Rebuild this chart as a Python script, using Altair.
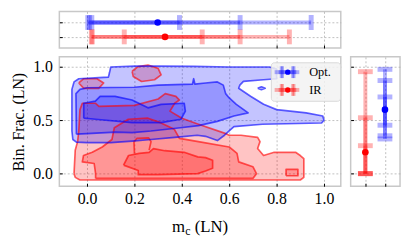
import altair as alt
import pandas as pd

# ---------------- data ----------------
XDOM = [-0.117, 1.071]
YDOM = [-0.118, 1.095]
XTICKS = [0.0, 0.2, 0.4, 0.6, 0.8, 1.0]
YTICKS = [0.0, 0.5, 1.0]

# contour outlines (m_c, bin frac) for the optical sample
BLUE_OUTER = [(-0.064, 0.40), (-0.064, 0.79), (-0.055, 0.86), (-0.035, 0.89), (0.05, 0.90), (0.09, 0.905),
              (0.095, 0.95), (0.10, 1.0), (0.20, 1.008), (0.30, 1.008), (0.45, 1.005), (0.60, 1.0), (0.77, 1.0),
              (0.80, 0.98), (0.80, 0.89), (0.745, 0.88), (0.66, 0.865), (0.645, 0.83), (0.64, 0.80),
              (0.69, 0.725), (0.745, 0.65), (0.80, 0.60), (0.925, 0.57), (0.995, 0.54), (1.0, 0.50),
              (0.99, 0.475), (0.74, 0.463), (0.62, 0.44), (0.58, 0.36), (0.55, 0.31), (0.50, 0.35),
              (0.465, 0.36), (0.37, 0.34), (0.27, 0.32), (0.19, 0.305), (0.10, 0.29), (0.0, 0.29),
              (-0.045, 0.295), (-0.06, 0.32)]
BLUE_ISLAND = [(0.72, 0.80), (0.736, 0.815), (0.752, 0.80), (0.736, 0.787)]
BLUE_MED = [(-0.045, 0.37), (-0.047, 0.75), (-0.03, 0.79), (0.0, 0.805), (0.20, 0.81), (0.30, 0.83),
            (0.445, 0.84), (0.45, 0.89), (0.455, 0.84), (0.50, 0.85), (0.55, 0.86), (0.575, 0.83),
            (0.585, 0.75), (0.60, 0.71), (0.63, 0.65), (0.68, 0.57), (0.62, 0.54), (0.55, 0.49),
            (0.47, 0.45), (0.395, 0.43), (0.27, 0.40), (0.19, 0.385), (0.12, 0.39), (0.0, 0.375)]
BLUE_DARK = [(-0.014, 0.52), (-0.014, 0.66), (0.035, 0.68), (0.055, 0.725), (0.118, 0.725), (0.19, 0.69),
             (0.257, 0.617), (0.3125, 0.65), (0.41, 0.66), (0.415, 0.586), (0.396, 0.51), (0.3125, 0.478),
             (0.19, 0.478), (0.035, 0.51)]

# contour outlines for the IR sample
RED_OUTER = [(-0.055, 0.0), (-0.05, -0.035), (-0.03, -0.06), (0.90, -0.06), (0.915, -0.035), (0.915, 0.14),
             (0.90, 0.17), (0.88, 0.20), (0.79, 0.20), (0.745, 0.17), (0.72, 0.235), (0.73, 0.30),
             (0.72, 0.34), (0.65, 0.36), (0.60, 0.36), (0.58, 0.38), (0.467, 0.466), (0.40, 0.52),
             (0.35, 0.586), (0.37, 0.66), (0.39, 0.69), (0.375, 0.725), (0.33, 0.75), (0.30, 0.70),
             (0.20, 0.64), (0.05, 0.63), (0.035, 0.66), (-0.02, 0.66), (-0.03, 0.60), (-0.035, 0.40),
             (-0.04, 0.30), (-0.05, 0.22)]
RED_ISLAND_A = [(0.19, 0.96), (0.215, 1.003), (0.257, 1.018), (0.30, 0.987), (0.3125, 0.926), (0.285, 0.88),
                (0.23, 0.864), (0.195, 0.91)]
RED_ISLAND_B = [(-0.035, 0.85), (-0.014, 0.89), (0.042, 0.89), (0.07, 0.85), (0.049, 0.80), (-0.014, 0.80)]
RED_MED = [(0.036, -0.045), (0.70, -0.045), (0.715, 0.0), (0.70, 0.065), (0.64, 0.11), (0.633, 0.19),
           (0.60, 0.25), (0.47, 0.30), (0.39, 0.33), (0.368, 0.417), (0.31, 0.478), (0.257, 0.52),
           (0.174, 0.51), (0.115, 0.43), (0.105, 0.32), (0.064, 0.25), (0.022, 0.20), (-0.015, 0.17),
           (-0.02, 0.11), (0.03, 0.095), (0.036, 0.0)]
RED_MED_ISLAND = [(0.84, -0.02), (0.84, 0.04), (0.89, 0.04), (0.89, -0.02)]
RED_DARK = [(0.154, 0.08), (0.175, 0.17), (0.22, 0.19), (0.262, 0.20), (0.28, 0.235), (0.328, 0.215),
            (0.41, 0.20), (0.467, 0.157), (0.50, 0.15), (0.53, 0.126), (0.53, 0.05), (0.50, 0.025),
            (0.467, 0.0), (0.30, -0.01), (0.216, -0.01), (0.216, 0.03)]
RED_TRACE = [(0.20, 0.19), (0.198, 0.30), (0.21, 0.33), (0.26, 0.335), (0.27, 0.30), (0.262, 0.22)]

# marginal summaries: centre and 1/2/3-sigma intervals
SERIES = ["Opt.", "IR"]
COLORS = ["#0000ff", "#ff0000"]
ROW = [1, 0]                       # marginal row / column index
MC_CENTER = [0.298, 0.329]
MC_LO = [[0.02, 0.01, 0.003], [0.157, 0.022, 0.018]]
MC_HI = [[0.39, 0.646, 0.946], [0.486, 0.646, 0.854]]
BF_CENTER = [0.60, 0.20]
BF_LO = [[0.454, 0.355, 0.325], [0.0, 0.0, 0.0]]
BF_HI = [[0.719, 0.873, 0.978], [0.262, 0.524, 0.956]]

FONT = "Liberation Serif"
W, H = 285, 131
TOP_H, RIGHT_W = 37, 50

xs = alt.Scale(domain=XDOM, nice=False, zero=False)
ys = alt.Scale(domain=YDOM, nice=False, zero=False)
cs = alt.Scale(domain=SERIES, range=COLORS)
rs = alt.Scale(domain=[-0.77, 1.77], nice=False, zero=False)
rcs = alt.Scale(domain=[-0.75, 1.77], nice=False, zero=False)


def poly_df(polys, close=True):
    rows = []
    for pid, pts in enumerate(polys):
        seq = list(pts) + ([pts[0]] if close else [])
        for i, (x, y) in enumerate(seq):
            rows.append({"pid": pid, "i": i, "x": x, "y": y})
    return pd.DataFrame(rows)


ax_main_x = alt.Axis(values=XTICKS, format=".1f", title=None, offset=-3, tickSize=3, domain=False,
                     labelPadding=5, grid=True)
ax_main_y = alt.Axis(values=YTICKS, format=".1f", title="Bin. Frac. (LN)", offset=-3, tickSize=3,
                     domain=False, labelPadding=7, titlePadding=6, grid=True)


def contour_fill(polys, color):
    return alt.Chart(poly_df(polys)).mark_line(
        fill=color, fillOpacity=0.23, strokeOpacity=0, strokeWidth=0
    ).encode(
        x=alt.X("x:Q", scale=xs, axis=ax_main_x),
        y=alt.Y("y:Q", scale=ys, axis=ax_main_y),
        detail="pid:N",
        order="i:Q",
    )


def contour_line(polys, color, close=True):
    return alt.Chart(poly_df(polys, close)).mark_line(
        stroke=color, strokeOpacity=0.62, strokeWidth=1.7, strokeJoin="round"
    ).encode(
        x=alt.X("x:Q", scale=xs, axis=ax_main_x),
        y=alt.Y("y:Q", scale=ys, axis=ax_main_y),
        detail="pid:N",
        order="i:Q",
    )


one = pd.DataFrame({"a": [0]})

blue_sets = [[BLUE_OUTER, BLUE_ISLAND], [BLUE_MED], [BLUE_DARK]]
red_sets = [[RED_OUTER, RED_ISLAND_A, RED_ISLAND_B], [RED_MED, RED_MED_ISLAND], [RED_DARK]]
contours = ([contour_fill(p, COLORS[1]) for p in red_sets]
            + [contour_fill(p, COLORS[0]) for p in blue_sets]
            + [contour_line(p, COLORS[1]) for p in red_sets]
            + [contour_line([RED_TRACE], COLORS[1], close=False)]
            + [contour_line(p, COLORS[0]) for p in blue_sets])

# legend (drawn inside the main panel)
LEG_X0, LEG_X1, LEG_Y0, LEG_Y1 = 214.7, 284.7, 6, 45
leg = [alt.Chart(one).mark_rect(fill="#f2f2f2", fillOpacity=0.85, stroke="#d8d8d8", strokeWidth=1,
                                cornerRadius=3).encode(
    x=alt.value(LEG_X0), x2=alt.value(LEG_X1), y=alt.value(LEG_Y0), y2=alt.value(LEG_Y1))]
for k, (name, col) in enumerate(zip(SERIES, COLORS)):
    yc = 15.5 + 18 * k
    leg.append(alt.Chart(one).mark_rule(color=col, strokeWidth=4, opacity=0.3).encode(
        x=alt.value(218), x2=alt.value(243), y=alt.value(yc)))
    leg.append(alt.Chart(one).mark_rule(color=col, strokeWidth=4, opacity=0.3).encode(
        x=alt.value(222), x2=alt.value(240), y=alt.value(yc)))
    for cx in (224.7, 226, 236.3, 237.6):
        leg.append(alt.Chart(one).mark_rule(color=col, strokeWidth=3, opacity=0.3).encode(
            x=alt.value(cx), y=alt.value(yc - 6), y2=alt.value(yc + 6)))
    leg.append(alt.Chart(one).mark_circle(color=col, size=30, opacity=1).encode(
        x=alt.value(231.3), y=alt.value(yc)))
    leg.append(alt.Chart(one).mark_text(text=name, font=FONT, fontSize=12.5, align="left",
                                        baseline="middle", color="#000").encode(
        x=alt.value(253), y=alt.value(yc)))

# x title with subscript
XT_Y = 177
xt = [
    alt.Chart(one).mark_text(text="m", font=FONT, fontSize=17, align="left", baseline="alphabetic",
                             color="#000").encode(x=alt.value(114), y=alt.value(XT_Y)),
    alt.Chart(one).mark_text(text="c", font=FONT, fontSize=12, align="left", baseline="alphabetic",
                             color="#000").encode(x=alt.value(127.5), y=alt.value(XT_Y + 3)),
    alt.Chart(one).mark_text(text="(LN)", font=FONT, fontSize=17, align="left", baseline="alphabetic",
                             color="#000").encode(x=alt.value(137), y=alt.value(XT_Y)),
]

main = alt.layer(*contours, *leg, *xt).properties(width=W, height=H)

# ---------------- top marginal (m_c) ----------------
iv_rows = []
for s, r, lo, hi in zip(SERIES, ROW, MC_LO, MC_HI):
    for a, b in zip(lo, hi):
        iv_rows.append({"series": s, "pos": r, "lo": a, "hi": b})
mc_iv = pd.DataFrame(iv_rows)
mc_caps = pd.concat([mc_iv.assign(v=mc_iv["lo"]), mc_iv.assign(v=mc_iv["hi"])])
mc_c = pd.DataFrame({"series": SERIES, "pos": ROW, "v": MC_CENTER})

ax_top_x = alt.Axis(values=XTICKS, labels=False, title=None, offset=-3, tickSize=3, domain=False, grid=True)
ax_top_y = alt.Axis(values=[0, 1], labels=False, title=None, offset=-3, tickSize=3, domain=False, grid=True)
col_enc = alt.Color("series:N", scale=cs, legend=None)

top = alt.layer(
    alt.Chart(mc_iv).mark_rule(strokeWidth=4, opacity=0.3).encode(
        x=alt.X("lo:Q", scale=xs, axis=ax_top_x), x2="hi:Q",
        y=alt.Y("pos:Q", scale=rs, axis=ax_top_y), color=col_enc),
    alt.Chart(mc_caps).mark_tick(orient="vertical", size=15, thickness=5, opacity=0.3).encode(
        x=alt.X("v:Q", scale=xs, axis=ax_top_x), y=alt.Y("pos:Q", scale=rs, axis=ax_top_y), color=col_enc),
    alt.Chart(mc_c).mark_circle(size=45, opacity=1).encode(
        x=alt.X("v:Q", scale=xs, axis=ax_top_x), y=alt.Y("pos:Q", scale=rs, axis=ax_top_y), color=col_enc),
).properties(width=W, height=TOP_H)

# ---------------- right marginal (binary fraction) ----------------
RCOL = [1, 0]
iv_rows = []
for s, r, lo, hi in zip(SERIES, RCOL, BF_LO, BF_HI):
    for a, b in zip(lo, hi):
        iv_rows.append({"series": s, "pos": r, "lo": a, "hi": b})
bf_iv = pd.DataFrame(iv_rows)
bf_caps = pd.concat([bf_iv.assign(v=bf_iv["lo"]), bf_iv.assign(v=bf_iv["hi"])])
bf_c = pd.DataFrame({"series": SERIES, "pos": RCOL, "v": BF_CENTER})

ax_r_x = alt.Axis(values=[0, 1], labels=False, title=None, offset=-3, tickSize=3, domain=False, grid=True)
ax_r_y = alt.Axis(values=YTICKS, labels=False, title=None, offset=-3, tickSize=3, domain=False, grid=True)

right = alt.layer(
    alt.Chart(bf_iv).mark_rule(strokeWidth=4, opacity=0.3).encode(
        y=alt.Y("lo:Q", scale=ys, axis=ax_r_y), y2="hi:Q",
        x=alt.X("pos:Q", scale=rcs, axis=ax_r_x), color=col_enc),
    alt.Chart(bf_caps).mark_tick(orient="horizontal", size=15, thickness=5, opacity=0.3).encode(
        y=alt.Y("v:Q", scale=ys, axis=ax_r_y), x=alt.X("pos:Q", scale=rcs, axis=ax_r_x), color=col_enc),
    alt.Chart(bf_c).mark_circle(size=45, opacity=1).encode(
        y=alt.Y("v:Q", scale=ys, axis=ax_r_y), x=alt.X("pos:Q", scale=rcs, axis=ax_r_x), color=col_enc),
).properties(width=RIGHT_W, height=H)

blank = alt.Chart(one).mark_point(opacity=0).properties(
    width=RIGHT_W, height=TOP_H, view=alt.ViewBackground(stroke="transparent"))

chart = alt.concat(top, blank, main, right, columns=2, bounds="flush", align="each",
                   spacing=alt.RowColnumber(row=9, column=10)).properties(
    padding={"left": 2, "top": 1, "right": 2, "bottom": 2}
).configure_view(
    stroke="#c8c8c8", strokeWidth=1.5
).configure_axis(
    gridColor="#b0b0b0", gridDash=[2, 2], gridWidth=0.8, tickColor="#000", tickWidth=1,
    labelFont=FONT, labelFontSize=16, labelColor="#000", titleFont=FONT, titleFontSize=16,
    titleFontWeight="normal", titleColor="#000"
)

chart.save("out.html", embed_options={"renderer": "svg", "actions": False})
